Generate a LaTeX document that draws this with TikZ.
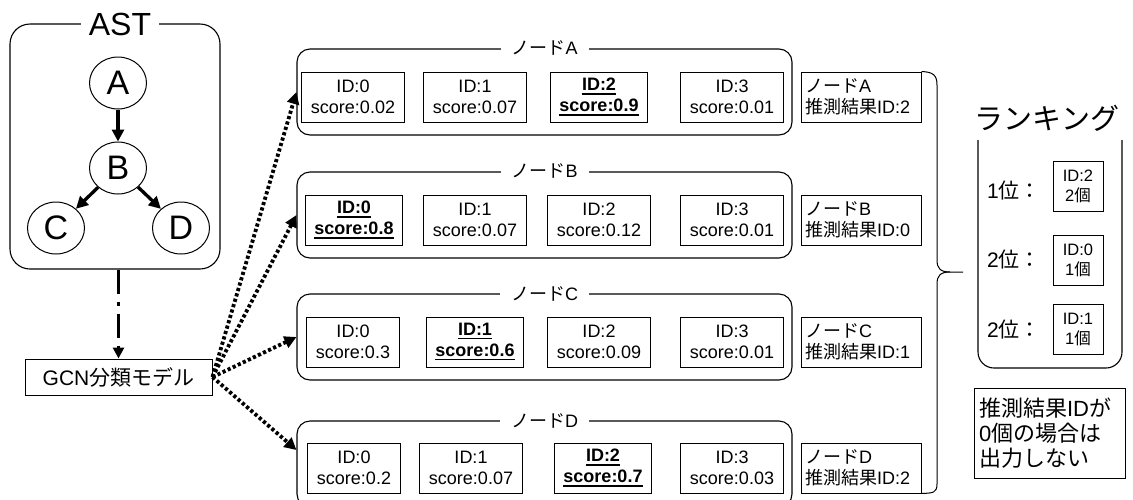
\documentclass[tikz,border=0pt]{standalone}
\usepackage{fontspec}
\setmainfont{Liberation Sans}
\newfontfamily\jp{Noto Sans CJK JP}
\usetikzlibrary{arrows.meta,shapes.geometric,calc}

% bold text with a heavy underline
\newcommand\ulbold[1]{\setbox0=\hbox{\bfseries #1}\rlap{\rule[-3.6pt]{\wd0}{1.8pt}}\box0}

\tikzset{
  thin line/.style={line width=1.1pt},
  grp/.style={draw, thin line, rounded corners=13pt, minimum width=495pt,
    minimum height=86pt, inner sep=0pt},
  cell/.style={draw, line width=1pt, minimum height=50pt, inner xsep=9pt,
    align=center, font=\fontsize{18}{21}\selectfont},
  res/.style={draw, line width=1pt, minimum height=50pt, minimum width=120pt,
    text width=112pt, inner xsep=4pt, align=left, font=\fontsize{18}{20.5}\selectfont},
  tag/.style={fill=white, inner xsep=11pt, inner ysep=1pt,
    font=\fontsize{18}{20}\selectfont},
  astn/.style={draw, ellipse, line width=1pt, minimum width=57pt,
    minimum height=52pt, inner sep=0pt, font=\fontsize{34}{34}\selectfont},
  tree/.style={line width=3.3pt, -{Triangle[length=12pt,width=12pt]}},
  feed/.style={line width=3.8pt, dash pattern=on 3.2pt off 2.4pt,
    -{Triangle[length=12pt,width=12pt]}},
  flow/.style={line width=3.3pt, dash pattern=on 24pt off 8pt on 4pt off 8pt,
    -{Triangle[length=11pt,width=11pt]}},
  rankcell/.style={draw, line width=1pt, minimum width=50pt, minimum height=50pt,
    inner sep=2pt, align=center, font=\fontsize{16.5}{20}\selectfont},
  ranklabel/.style={font=\fontsize{21}{24}\selectfont},
}

\begin{document}
\begin{tikzpicture}[x=1pt,y=-1pt]
\useasboundingbox (0,0) rectangle (1133,499);

% ---------- AST ----------
\node[draw, thin line, rounded corners=20pt, minimum width=210pt,
      minimum height=245pt] (ast) at (115,146.5) {};
\node[fill=white, inner xsep=8pt, inner ysep=0pt, font=\fontsize{32}{32}\selectfont]
  (asttitle) at (120,24) {AST};
\node[astn] (nA) at (118,83) {A};
\node[astn] (nB) at (118,168) {B};
\node[astn] (nC) at (56,228) {C};
\node[astn] (nD) at (181,228) {D};
\draw[tree] (nA) -- (nB);
\draw[tree] (nB) -- (nC);
\draw[tree] (nB) -- (nD);

% ---------- model ----------
\node[draw, line width=1pt, minimum width=187pt, minimum height=36pt,
      font=\fontsize{21}{24}\selectfont] (gcn) at (118.5,377) {GCN{\jp 分類モデル}};
\draw[flow] (gcn.north |- ast.south) -- (gcn.north);

% ---------- per-node groups ----------
\node[grp] (gA) at (544.5,92) {};
\node[grp] (gB) at (544.5,215) {};
\node[grp] (gC) at (544.5,337) {};
\node[grp] (gD) at (544.5,464) {};
\node[tag] (tA) at (gA.north) {\jp ノード\rmfamily A};
\node[tag] (tB) at (gB.north) {\jp ノード\rmfamily B};
\node[tag] (tC) at (gC.north) {\jp ノード\rmfamily C};
\node[tag] (tD) at (gD.north) {\jp ノード\rmfamily D};

% group A
\node[cell] (a0) at (353,97) {ID:0\\score:0.02};
\node[cell] (a1) at (475,97) {ID:1\\score:0.07};
\node[cell] (a2) at (599,97) {\ulbold{ID:2}\\\ulbold{score:0.9}};
\node[cell] (a3) at (732,97) {ID:3\\score:0.01};
\node[res]  (rA) at (861,97) {{\jp ノード}A\\{\jp 推測結果}ID:2};
% group B
\node[cell] (b0) at (354,220) {\ulbold{ID:0}\\\ulbold{score:0.8}};
\node[cell] (b1) at (475,220) {ID:1\\score:0.07};
\node[cell] (b2) at (599,220) {ID:2\\score:0.12};
\node[cell] (b3) at (732,220) {ID:3\\score:0.01};
\node[res]  (rB) at (861,220) {{\jp ノード}B\\{\jp 推測結果}ID:0};
% group C
\node[cell] (c0) at (353,342) {ID:0\\score:0.3};
\node[cell] (c1) at (475,342) {\ulbold{ID:1}\\\ulbold{score:0.6}};
\node[cell] (c2) at (599,342) {ID:2\\score:0.09};
\node[cell] (c3) at (732,342) {ID:3\\score:0.01};
\node[res]  (rC) at (861,342) {{\jp ノード}C\\{\jp 推測結果}ID:1};
% group D
\node[cell] (d0) at (354,468) {ID:0\\score:0.2};
\node[cell] (d1) at (471,468) {ID:1\\score:0.07};
\node[cell] (d2) at (603,468) {\ulbold{ID:2}\\\ulbold{score:0.7}};
\node[cell] (d3) at (732,468) {ID:3\\score:0.03};
\node[res]  (rD) at (861,468) {{\jp ノード}D\\{\jp 推測結果}ID:2};

% model outputs
\draw[feed] (gcn.east) -- (gA.west);
\draw[feed] (gcn.east) -- (gB.west);
\draw[feed] (gcn.east) -- (gC.west);
\draw[feed] (gcn.east) -- ([yshift=14pt]gD.west);

% brace gathering the predictions
\draw[line width=1pt] (rA.north east) .. controls (933,72) and (937,75) .. (937,85)
  -- (937,260) .. controls (937,268) and (940,272) .. (950,272) -- (963,272);
\draw[line width=1pt] (950,272) .. controls (940,272) and (937,276) .. (937,284)
  -- (937,484) .. controls (937,493) and (933,493) .. (rD.south east);

% ---------- ranking ----------
\node[font=\fontsize{29}{32}\selectfont\jp] (rank) at (1047,118) {ランキング};
\draw[thin line, rounded corners=16pt] (978,140) -- (978,368) -- (1122,368) -- (1122,140);
\node[ranklabel] (l1) at (1014,191) {1{\jp 位：}};
\node[ranklabel] (l2) at (1014,260) {2{\jp 位：}};
\node[ranklabel] (l3) at (1014,330) {2{\jp 位：}};
\node[rankcell] (k1) at (1078,186.5) {ID:2\\2{\jp 個}};
\node[rankcell] (k2) at (1078,260) {ID:0\\1{\jp 個}};
\node[rankcell] (k3) at (1078,329) {ID:1\\1{\jp 個}};

% ---------- note ----------
\node[draw, line width=1pt, minimum width=151pt, minimum height=90pt,
      text width=141pt, align=left, inner xsep=5pt,
      font=\fontsize{22}{25}\selectfont] (note) at (1049.5,433)
  {{\jp 推測結果}ID{\jp が}\\0{\jp 個の場合は}\\{\jp 出力しない}};
\end{tikzpicture}
\end{document}
